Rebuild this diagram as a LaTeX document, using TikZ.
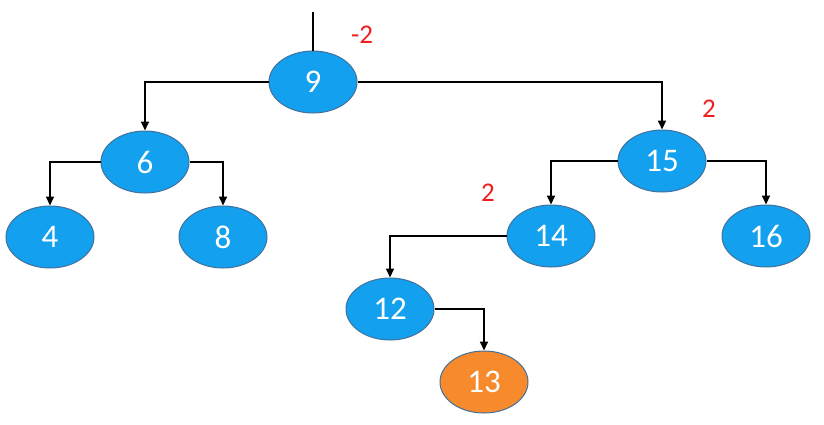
\documentclass[tikz,border=0pt]{standalone}
\usepackage{fontspec}
\setmainfont{Carlito}
\usetikzlibrary{arrows.meta}
\usetikzlibrary{shapes.geometric}
\usetikzlibrary{positioning}
\definecolor{keyblue}{RGB}{18,160,239}
\definecolor{keyorange}{RGB}{246,138,44}
\definecolor{keyline}{RGB}{65,113,156}
\definecolor{balred}{RGB}{240,30,30}
\tikzset{key/.style = {ellipse, draw = keyline, line width = 1pt, fill = keyblue,
                       minimum width = 88, minimum height = 62, inner sep = 0,
                       text = white, font = \fontsize{33}{36}\selectfont}}
\tikzset{newkey/.style = {key, fill = keyorange}}
\tikzset{bal/.style = {text = balred, font = \fontsize{27}{30}\selectfont}}
\tikzset{edge/.style = {line width = 2pt, -{Triangle[length = 9pt, width = 8pt]}}}

\begin{document}
\begin{tikzpicture}[x = 1pt, y = -1pt]
    \useasboundingbox (0, 0) rectangle (824, 424);
    \node (n9) at (313, 82) [key] {9};
    \node (n6) at (145, 162) [key] {6};
    \node (n15) at (662, 161) [key] {15};
    \node (n4) at (50, 237) [key] {4};
    \node (n8) at (223, 237) [key] {8};
    \node (n14) at (551, 236) [key] {14};
    \node (n16) at (766, 236) [key] {16};
    \node (n12) at (390, 309) [key] {12};
    \node (n13) at (484, 382) [newkey] {13};
    \coordinate (root) at (313, 12);
    \draw [line width = 2pt] (root) -- (n9.north);
    \draw [edge] (n9.west) -| (n6.north);
    \draw [edge] (n9.east) -| (n15.north);
    \draw [edge] (n6.west) -| (n4.north);
    \draw [edge] (n6.east) -| (n8.north);
    \draw [edge] (n15.west) -| (n14.north);
    \draw [edge] (n15.east) -| (n16.north);
    \draw [edge] (n14.west) -| (n12.north);
    \draw [edge] (n12.east) -| (n13.north);
    \node (b9) at (362, 35) [bal] {-2};
    \node (b15) at (709, 109) [bal] {2};
    \node (b14) at (488, 193) [bal] {2};
  \end{tikzpicture}
\end{document}
